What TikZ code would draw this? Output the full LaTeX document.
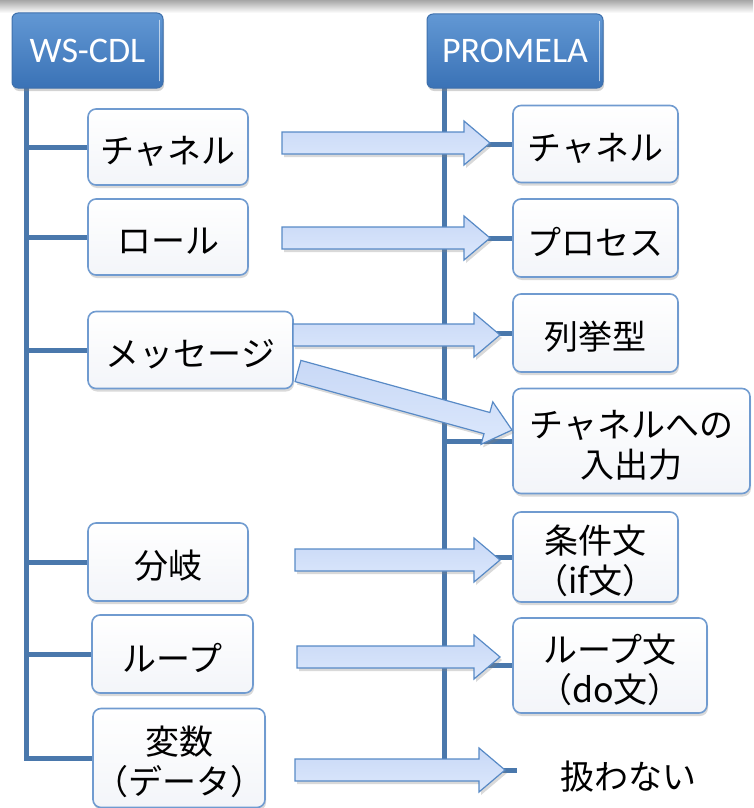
\documentclass[tikz,border=0pt]{standalone}
\usepackage{fontspec}
\newfontfamily\jp{Noto Sans CJK JP}
\newfontfamily\hdr{Carlito}
\usetikzlibrary{calc,shadows}
\pgfdeclarelayer{background}
\pgfsetlayers{background,main}
\definecolor{treeblue}{RGB}{74,120,172}
\definecolor{boxborder}{RGB}{112,155,208}
\definecolor{boxbottom}{RGB}{243,245,249}
\definecolor{hdrtop}{RGB}{98,152,212}
\definecolor{hdrbot}{RGB}{58,114,182}
\definecolor{hdrborder}{RGB}{62,112,172}
\definecolor{arrtop}{RGB}{200,216,246}
\definecolor{arrbot}{RGB}{220,232,252}
\definecolor{arrborder}{RGB}{88,138,198}
\newcommand\dn[1]{\raisebox{-4pt}[\height][\depth]{#1}}
\newcommand\blockarrowpath[2]{%
  \coordinate (bH) at ($(#2)!26pt!(#1)$);
  \path[barr] ($(#1)!11pt!90:(#2)$) -- ($(bH)!11pt!-90:(#1)$) -- ($(bH)!22pt!-90:(#1)$) -- (#2)
     -- ($(bH)!22pt!90:(#1)$) -- ($(bH)!11pt!90:(#1)$) -- ($(#1)!11pt!-90:(#2)$) -- cycle;}
\begin{document}
\begin{tikzpicture}[x=1pt,y=-1pt,
  tree/.style={draw=treeblue, line width=5pt},
  box/.style={draw=boxborder, line width=1.6pt, rounded corners=8pt, top color=white, bottom color=boxbottom,
     drop shadow={opacity=0.3, shadow xshift=1pt, shadow yshift=-3pt},
     font=\jp\fontsize{34}{40}\selectfont, align=center, inner sep=0pt},
  hdrbox/.style={draw=hdrborder, line width=1pt, rounded corners=6pt, top color=hdrtop, bottom color=hdrbot,
     text=white, font=\hdr\fontsize{36}{40}\selectfont, inner sep=0pt,
     drop shadow={opacity=0.35, shadow xshift=1pt, shadow yshift=-3pt}},
  barr/.style={draw=arrborder, line width=1.2pt, top color=arrtop, bottom color=arrbot, line join=miter,
     drop shadow={opacity=0.3, shadow xshift=2pt, shadow yshift=-3pt}},
  plain/.style={font=\jp\fontsize{34}{40}\selectfont, inner sep=0pt}
]
\useasboundingbox (0,0) rectangle (753,808);
\shade[top color=black!35, bottom color=white] (0,0) rectangle (753,13);

% coordinates of the trunks
\coordinate (T1top) at (26,88);
\coordinate (T2top) at (444,88);
\coordinate (R7s) at (517,770);

% left boxes
\node[box, minimum width=160pt, minimum height=76pt] (L1) at (168,147) {\dn{チャネル}};
\node[box, minimum width=160pt, minimum height=76pt] (L2) at (168,237) {\dn{ロール}};
\node[box, minimum width=205pt, minimum height=77pt] (L3) at (190.5,350) {\dn{メッセージ}};
\node[box, minimum width=160pt, minimum height=78pt] (L4) at (168,562) {\dn{分岐}};
\node[box, minimum width=161pt, minimum height=78pt] (L5) at (172.5,654) {\dn{ループ}};
\node[box, minimum width=172pt, minimum height=99pt] (L6) at (179,758) {\dn{変数}\\\dn{（データ）}};

% right boxes
\node[box, minimum width=165pt, minimum height=77pt] (R1) at (595.5,144) {\dn{チャネル}};
\node[box, minimum width=165pt, minimum height=78pt] (R2) at (595.5,238) {\dn{プロセス}};
\node[box, minimum width=165pt, minimum height=78pt] (R3) at (595.5,333) {\dn{列挙型}};
\node[box, minimum width=237pt, minimum height=105pt] (R4) at (631.5,441) {\dn{チャネルへの}\\\dn{入出力}};
\node[box, minimum width=165pt, minimum height=90pt] (R5) at (595.5,557) {\dn{条件文}\\\dn{（if文）}};
\node[box, minimum width=194pt, minimum height=95pt] (R6) at (610,665.5) {\dn{ループ文}\\\dn{（do文）}};
\node[plain] (R7) at (628,773) {\dn{扱わない}};

% tree lines (behind boxes)
\begin{pgfonlayer}{background}
  \draw[tree] (T1top) |- (L6.west);
  \foreach \n in {L1,L2,L3,L4,L5} \draw[tree] (T1top |- \n.west) -- (\n.west);
  \draw[tree] (T2top) |- (R7s);
  \foreach \n in {R1,R2,R3,R4,R5,R6} \draw[tree] (T2top |- \n.west) -- (\n.west);
\end{pgfonlayer}

% block arrows
\coordinate (A1t) at (282,143); \coordinate (A1h) at (490,143);
\coordinate (A2t) at (282,238); \coordinate (A2h) at (490,238);
\coordinate (A3t) at (293,335); \coordinate (A3h) at (500,335);
\coordinate (A4t) at (298,371); \coordinate (A4h) at (512,430);
\coordinate (A5t) at (295,560); \coordinate (A5h) at (500,560);
\coordinate (A6t) at (297,657); \coordinate (A6h) at (500,657);
\coordinate (A7t) at (295,770); \coordinate (A7h) at (505,770);
\blockarrowpath{A1t}{A1h}
\blockarrowpath{A2t}{A2h}
\blockarrowpath{A3t}{A3h}
\blockarrowpath{A4t}{A4h}
\blockarrowpath{A5t}{A5h}
\blockarrowpath{A6t}{A6h}
\blockarrowpath{A7t}{A7h}

% headers
\node[hdrbox, minimum width=151pt, minimum height=75pt] (H1) at (87.5,50.5) {WS-CDL};
\node[hdrbox, minimum width=176pt, minimum height=74pt] (H2) at (515,51) {PROMELA};
\draw[white, opacity=0.6, line width=1.5pt, line cap=round] ($(H1.north east)+(-4,8)$) -- ($(H1.south east)+(-4,-8)$);
\draw[white, opacity=0.6, line width=1.5pt, line cap=round] ($(H2.north east)+(-4,8)$) -- ($(H2.south east)+(-4,-8)$);
\end{tikzpicture}
\end{document}
